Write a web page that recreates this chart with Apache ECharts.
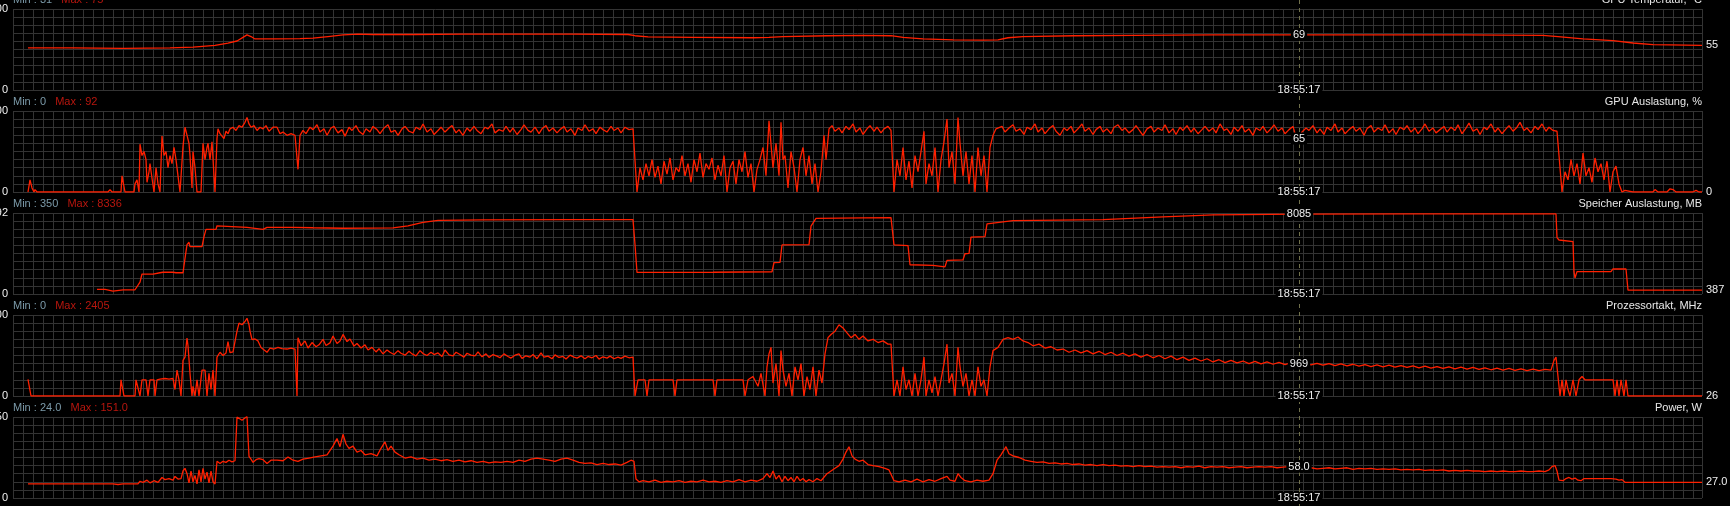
<!DOCTYPE html>
<html><head><meta charset="utf-8">
<script src="https://cdn.jsdelivr.net/npm/echarts@6/dist/echarts.min.js"></script>
<style>html,body{margin:0;padding:0;background:#000;overflow:hidden}#c{width:1730px;height:506px}</style>
</head><body><div id="c"></div>
<script>
// ---- data (t = sample index, seconds) ----
const panelNames = ['GPU Temperatur, °C', 'GPU Auslastung, %', 'Speicher Auslastung, MB', 'Prozessortakt, MHz', 'Power, W'];
const minTexts = ['31', '0', '350', '0', '24.0'];
const maxTexts = ['75', '92', '8336', '2405', '151.0'];
const yTopLabels = ['100', '100', '8192', '2500', '150'];
const yMaxValues = [100, 100, 8192, 2500, 150];
const endLabels = ['55', '0', '387', '26', '27.0'];
const cursorLabels = ['69', '65', '8085', '969', '58.0'];
const cursorValues = [68, 66, 8085, 1000, 58];
const cursorTime = 1286;
const cursorStamp = '18:55:17';
const timeMax = 1689;

const gpuTemp = [[15,52],[60,52],[110,51.5],[157,52],[180,53],[202,55],[215,58],[224,60.5],[230,65],[234,68],[238,66],[242,63],[262,63],[287,63.5],[300,64],[315,66],[330,68],[345,69],[360,68.5],[400,68.5],[450,69],[500,69],[560,69],[615,68.5],[622,67],[635,65.5],[680,65],[740,64.5],[756,65],[770,66],[814,67],[850,67.5],[878,67],[890,65],[910,63],[940,62],[970,61.5],[985,62],[995,64.5],[1010,66],[1060,67],[1120,67.5],[1200,68],[1286,68],[1360,68],[1450,68],[1530,67.5],[1545,66],[1570,63],[1600,61],[1620,58],[1640,56],[1689,55]];

const gpuLoad = [[15,0],[17,15],[19,5],[21,0],[22,3],[24,0],[95,0],[97,3],[99,0],[108,0],[109,20],[111,20],[112,0],[121,0],[122,10],[124,15],[126,0],[127,59],[129,45],[131,50],[133,40],[134,12],[136,25],[137,35],[139,17],[141,0],[143,30],[145,10],[147,0],[149,69],[151,45],[153,50],[155,30],[157,45],[159,35],[161,55],[163,40],[165,20],[167,0],[170,56],[172,80],[174,78],[176,60],[177,45],[179,5],[180,50],[182,30],[184,0],[188,0],[190,60],[192,40],[194,55],[195,60],[197,40],[199,62],[201,20],[202,0],[204,66],[205,78],[207,72],[209,74],[211,66],[213,75],[215,72],[217,78],[220,80],[223,76],[226,82],[229,80],[232,86],[234,92],[236,84],[238,80],[241,82],[244,76],[247,80],[250,78],[253,82],[256,75],[260,80],[264,80],[267,72],[270,74],[274,70],[278,72],[282,70],[285,28],[287,70],[290,76],[293,72],[297,80],[300,77],[304,83],[307,74],[311,78],[314,70],[318,79],[321,81],[325,73],[329,77],[332,69],[336,80],[339,76],[343,82],[346,75],[350,71],[353,78],[357,74],[360,81],[364,77],[367,72],[371,79],[375,83],[378,74],[382,76],[385,70],[389,78],[392,81],[396,75],[400,73],[403,80],[407,77],[410,84],[414,74],[418,78],[421,71],[425,76],[428,80],[432,74],[436,79],[439,82],[443,73],[446,77],[450,70],[454,79],[457,75],[461,81],[464,76],[468,72],[472,80],[475,78],[479,84],[482,73],[486,77],[490,75],[493,81],[497,74],[500,79],[504,71],[508,77],[511,83],[515,76],[518,74],[522,80],[526,72],[529,78],[533,82],[536,75],[540,79],[544,73],[547,77],[551,81],[554,74],[558,78],[562,70],[565,79],[569,76],[572,83],[576,75],[580,78],[583,72],[587,80],[590,77],[594,74],[598,81],[601,76],[605,79],[608,73],[612,80],[616,77],[620,78],[622,78],[624,0],[627,30],[630,15],[633,35],[636,20],[639,40],[642,18],[645,32],[648,10],[651,38],[654,22],[657,42],[660,15],[663,30],[666,25],[669,45],[672,20],[675,35],[678,12],[681,40],[684,25],[687,48],[690,18],[693,35],[696,28],[699,42],[702,15],[705,33],[708,20],[711,45],[714,0],[717,30],[720,38],[723,10],[726,40],[729,25],[732,50],[735,18],[738,35],[741,0],[744,28],[747,40],[750,55],[753,20],[756,88],[758,90],[760,30],[763,60],[766,20],[768,86],[770,40],[772,45],[775,5],[778,50],[781,30],[784,0],[787,40],[790,55],[793,20],[796,45],[799,10],[802,35],[805,0],[808,25],[811,70],[813,40],[816,78],[819,82],[822,75],[826,79],[829,73],[833,81],[836,77],[840,84],[843,74],[847,79],[850,71],[854,78],[857,82],[861,75],[864,80],[868,73],[871,78],[875,81],[878,76],[881,0],[884,40],[887,20],[890,55],[893,15],[896,38],[899,5],[902,45],[905,25],[908,50],[911,75],[913,10],[916,35],[919,20],[922,55],[925,0],[928,40],[931,62],[934,90],[936,30],[939,50],[942,10],[945,92],[947,60],[950,20],[953,50],[956,10],[959,45],[962,0],[965,55],[968,20],[971,45],[974,0],[977,55],[980,70],[983,78],[985,76],[989,81],[992,74],[996,79],[1000,83],[1003,75],[1007,78],[1011,71],[1014,80],[1018,77],[1022,84],[1025,74],[1029,79],[1032,72],[1036,78],[1040,82],[1043,75],[1047,70],[1051,79],[1054,76],[1058,81],[1061,73],[1065,78],[1069,84],[1072,75],[1076,79],[1080,71],[1083,77],[1087,81],[1090,74],[1094,78],[1098,72],[1101,80],[1105,83],[1109,76],[1112,79],[1116,73],[1120,77],[1123,82],[1127,75],[1130,70],[1134,78],[1138,81],[1141,74],[1145,79],[1149,76],[1152,83],[1156,73],[1160,78],[1163,71],[1167,80],[1170,76],[1174,82],[1178,74],[1181,79],[1185,72],[1189,77],[1192,81],[1196,75],[1200,79],[1203,73],[1207,84],[1211,76],[1214,78],[1218,71],[1221,80],[1225,75],[1229,82],[1232,74],[1236,78],[1240,70],[1243,79],[1247,76],[1250,81],[1254,73],[1258,78],[1261,83],[1265,75],[1269,79],[1272,72],[1276,77],[1280,81],[1283,68],[1286,66],[1289,74],[1293,79],[1296,76],[1300,82],[1304,73],[1307,78],[1311,71],[1314,80],[1318,76],[1322,84],[1325,74],[1329,79],[1332,72],[1336,77],[1340,81],[1343,75],[1347,79],[1351,70],[1354,78],[1358,82],[1361,74],[1365,79],[1369,76],[1372,83],[1376,73],[1380,78],[1383,71],[1387,80],[1391,77],[1394,82],[1398,74],[1402,79],[1405,72],[1409,78],[1412,84],[1416,75],[1420,79],[1423,73],[1427,77],[1431,81],[1434,74],[1438,80],[1442,76],[1445,83],[1449,72],[1453,79],[1456,85],[1460,75],[1464,78],[1467,71],[1471,80],[1474,77],[1478,84],[1482,74],[1485,79],[1489,72],[1493,78],[1496,82],[1500,75],[1504,80],[1507,86],[1511,76],[1514,79],[1518,73],[1522,81],[1525,77],[1529,84],[1533,75],[1536,80],[1540,76],[1544,75],[1546,45],[1549,0],[1552,25],[1555,15],[1558,40],[1561,20],[1564,35],[1567,10],[1570,48],[1573,20],[1576,30],[1579,12],[1582,42],[1585,25],[1588,35],[1591,15],[1594,38],[1597,0],[1600,25],[1603,32],[1606,10],[1609,0],[1612,2],[1620,0],[1640,0],[1642,3],[1645,0],[1654,0],[1657,4],[1660,3],[1663,0],[1680,0],[1683,2],[1686,0],[1689,0]];

const memUsed = [[84,475],[92,475],[94,330],[100,300],[104,350],[110,420],[122,430],[124,500],[127,1200],[129,2020],[140,2020],[147,2150],[148,2300],[150,2200],[160,2200],[162,2400],[163,2150],[170,2150],[172,3600],[174,5000],[176,5230],[177,4800],[189,4800],[191,5800],[193,6540],[203,6540],[204,6900],[206,6740],[234,6740],[236,6540],[250,6540],[252,6650],[254,6740],[280,6740],[282,6900],[300,6700],[330,6650],[380,6680],[395,6900],[410,7250],[425,7450],[470,7500],[560,7520],[620,7520],[622,5000],[624,2180],[700,2200],[759,2250],[761,3180],[767,3200],[769,4960],[796,5000],[798,6860],[803,7640],[850,7700],[878,7720],[881,4960],[895,4900],[897,2960],[920,2900],[932,2750],[934,3400],[950,3450],[952,4070],[956,4100],[958,5750],[972,5800],[974,7090],[1000,7420],[1090,7530],[1150,7800],[1200,8000],[1286,8085],[1400,8100],[1543,8100],[1544,5700],[1546,5460],[1560,5300],[1561,2255],[1562,1620],[1564,2260],[1598,2260],[1600,2530],[1613,2530],[1615,387],[1689,387]];

const coreClock = [[15,510],[17,510],[18,0],[20,30],[21,0],[50,0],[51,20],[52,0],[107,0],[108,500],[110,500],[111,0],[122,0],[123,500],[125,500],[127,0],[129,500],[133,500],[135,0],[137,500],[141,500],[142,0],[144,500],[147,520],[152,540],[156,520],[160,540],[162,200],[164,800],[166,500],[168,0],[170,1100],[172,1200],[174,1790],[175,1550],[177,700],[179,0],[180,300],[182,0],[184,500],[186,0],[189,800],[192,800],[194,0],[196,700],[198,200],[200,800],[202,0],[204,1200],[207,1350],[210,1250],[213,1330],[215,1680],[217,1340],[220,1360],[222,1340],[224,2000],[226,2250],[229,2200],[232,2300],[234,2400],[236,2200],[237,2000],[239,1740],[242,1760],[245,1700],[248,1500],[250,1550],[254,1350],[257,1480],[261,1450],[265,1500],[269,1460],[274,1450],[278,1480],[282,1450],[284,0],[285,1800],[288,1550],[292,1700],[295,1480],[299,1650],[303,1520],[306,1580],[310,1750],[313,1560],[317,1640],[320,1850],[324,1620],[327,1700],[330,1900],[334,1680],[337,1760],[341,1540],[344,1620],[348,1480],[352,1580],[355,1420],[359,1500],[363,1360],[366,1460],[370,1300],[374,1420],[377,1350],[381,1280],[385,1400],[388,1320],[392,1260],[396,1380],[399,1300],[403,1240],[407,1400],[410,1310],[414,1250],[418,1350],[421,1280],[425,1330],[429,1220],[432,1420],[436,1270],[440,1240],[443,1350],[447,1280],[451,1200],[454,1320],[458,1260],[462,1240],[465,1360],[469,1210],[473,1300],[476,1190],[480,1280],[484,1230],[487,1180],[491,1300],[495,1220],[498,1170],[502,1260],[506,1300],[509,1160],[513,1240],[517,1200],[520,1280],[524,1150],[528,1330],[531,1200],[535,1230],[539,1150],[542,1270],[546,1190],[550,1220],[553,1140],[557,1260],[561,1200],[564,1170],[568,1240],[572,1150],[575,1220],[579,1180],[583,1250],[586,1140],[590,1210],[594,1170],[597,1230],[601,1150],[605,1200],[608,1160],[612,1230],[616,1180],[620,1200],[622,0],[625,500],[632,500],[634,0],[636,500],[660,500],[662,0],[664,500],[700,500],[702,0],[704,500],[730,500],[732,0],[735,500],[740,600],[745,300],[748,700],[752,0],[754,900],[756,1300],[758,1500],[760,400],[763,1000],[766,0],[768,1400],[770,800],[773,300],[776,700],[779,0],[782,900],[785,500],[788,1000],[791,0],[794,600],[797,200],[800,900],[803,0],[806,800],[809,400],[812,1300],[815,1800],[818,1900],[822,2000],[826,2200],[830,2100],[834,1950],[838,1800],[842,1900],[846,1750],[850,1850],[855,1700],[860,1750],[865,1650],[870,1700],[875,1600],[878,1600],[881,0],[884,500],[887,0],[890,900],[893,200],[896,500],[899,0],[902,700],[905,0],[908,500],[911,1200],[913,0],[916,500],[919,100],[922,600],[925,0],[928,500],[931,1000],[934,1600],[936,400],[939,700],[942,0],[945,1500],[947,900],[950,300],[953,700],[956,0],[959,500],[962,0],[965,900],[968,300],[971,500],[974,0],[977,900],[980,1400],[985,1500],[990,1750],[995,1800],[1000,1750],[1005,1820],[1010,1700],[1015,1650],[1020,1550],[1026,1600],[1032,1480],[1038,1520],[1044,1420],[1050,1450],[1056,1350],[1062,1420],[1068,1330],[1074,1400],[1080,1300],[1086,1380],[1092,1280],[1098,1350],[1104,1250],[1110,1320],[1116,1230],[1122,1300],[1128,1200],[1134,1280],[1140,1180],[1146,1250],[1152,1150],[1158,1230],[1164,1120],[1170,1200],[1176,1100],[1182,1170],[1188,1080],[1194,1150],[1200,1050],[1206,1120],[1212,1030],[1218,1100],[1224,1020],[1230,1080],[1236,1000],[1242,1070],[1248,990],[1254,1050],[1260,980],[1266,1040],[1272,970],[1278,1030],[1286,969],[1292,1020],[1298,960],[1304,1010],[1310,950],[1316,1000],[1322,940],[1328,990],[1334,930],[1340,980],[1346,920],[1352,970],[1358,910],[1364,960],[1370,900],[1376,950],[1382,890],[1388,940],[1394,880],[1400,930],[1406,870],[1412,920],[1418,860],[1424,910],[1430,850],[1436,900],[1442,840],[1448,890],[1454,830],[1460,880],[1466,820],[1472,870],[1478,810],[1484,860],[1490,800],[1496,850],[1502,790],[1508,840],[1514,780],[1520,830],[1526,780],[1532,820],[1538,800],[1541,1100],[1543,1200],[1545,1150],[1547,0],[1549,500],[1551,0],[1553,500],[1555,200],[1557,0],[1560,500],[1563,0],[1566,500],[1569,600],[1572,500],[1600,500],[1602,0],[1604,500],[1606,0],[1608,500],[1611,0],[1613,500],[1615,0],[1640,0],[1642,30],[1645,0],[1660,0],[1662,30],[1664,0],[1689,0]];

const boardPower = [[15,26],[60,26],[62,25],[100,26],[105,25],[110,26],[125,26],[127,31],[130,29],[134,33],[137,28],[141,32],[145,29],[149,38],[152,34],[156,36],[160,33],[162,40],[165,35],[168,36],[170,50],[172,55],[174,45],[176,28],[178,50],[180,30],[182,42],[184,26],[186,52],[188,30],[190,55],[192,35],[194,48],[196,28],[198,50],[200,30],[202,26],[204,68],[207,64],[210,68],[213,66],[216,70],[219,67],[222,69],[224,150],[226,151],[229,144],[231,146],[234,151],[236,77],[238,72],[240,66],[243,71],[246,73],[250,71],[254,64],[258,70],[264,70],[270,69],[275,76],[280,70],[285,68],[290,72],[296,74],[302,76],[308,78],[314,80],[320,96],[324,110],[327,95],[330,118],[333,100],[336,92],[340,96],[344,85],[348,88],[352,80],[358,82],[364,78],[368,92],[372,104],[375,88],[378,96],[382,85],[386,80],[392,74],[398,76],[404,72],[410,74],[416,70],[422,72],[428,69],[434,71],[440,68],[446,70],[452,67],[458,69],[464,66],[470,68],[476,65],[482,67],[488,66],[494,68],[500,66],[506,70],[512,68],[518,72],[524,74],[530,72],[536,70],[542,68],[548,72],[554,74],[560,70],[566,66],[572,64],[578,65],[584,62],[590,64],[596,62],[602,63],[608,61],[614,66],[618,70],[621,68],[623,35],[626,30],[630,32],[636,30],[642,33],[648,29],[654,31],[660,30],[666,32],[672,29],[678,31],[684,30],[690,33],[696,30],[702,31],[708,29],[714,32],[720,30],[726,34],[732,30],[738,33],[744,31],[750,36],[754,45],[757,38],[760,50],[763,35],[766,42],[769,30],[772,40],[775,32],[778,38],[781,30],[784,40],[787,32],[790,36],[793,30],[796,34],[800,30],[804,36],[808,32],[814,45],[818,50],[822,55],[826,60],[830,72],[833,85],[836,95],[839,78],[842,72],[846,68],[850,70],[855,62],[860,60],[866,58],[872,55],[876,52],[878,50],[881,32],[886,30],[892,33],[898,30],[904,35],[910,30],[916,34],[922,31],[928,36],[934,40],[937,33],[942,31],[945,45],[948,38],[952,32],[958,30],[964,33],[970,31],[976,33],[980,45],[984,70],[988,80],[993,95],[996,82],[1000,78],[1006,75],[1012,70],[1018,68],[1024,66],[1030,67],[1036,64],[1042,65],[1048,63],[1054,64],[1060,62],[1066,63],[1072,61],[1078,62],[1084,60],[1090,62],[1096,60],[1102,61],[1108,59],[1114,60],[1120,58],[1126,60],[1132,58],[1138,59],[1144,57],[1150,58],[1156,57],[1162,58],[1168,56],[1174,58],[1180,57],[1186,59],[1192,56],[1198,58],[1204,57],[1210,58],[1216,56],[1222,57],[1228,58],[1234,56],[1240,57],[1246,58],[1252,57],[1258,58],[1264,56],[1270,57],[1276,58],[1280,56],[1286,58],[1292,55],[1298,56],[1304,54],[1310,55],[1316,56],[1322,54],[1328,55],[1334,56],[1340,53],[1346,55],[1352,54],[1358,55],[1364,53],[1370,54],[1376,53],[1382,54],[1388,52],[1394,53],[1400,52],[1406,53],[1412,51],[1418,52],[1424,51],[1430,52],[1436,50],[1442,51],[1448,50],[1454,51],[1460,50],[1466,50],[1472,49],[1478,50],[1484,49],[1490,50],[1496,49],[1502,49],[1508,50],[1514,49],[1520,49],[1526,50],[1532,49],[1536,52],[1539,58],[1542,60],[1544,50],[1546,33],[1550,32],[1553,36],[1556,38],[1559,35],[1562,37],[1565,33],[1568,32],[1571,36],[1574,36],[1598,36],[1600,33],[1603,35],[1606,33],[1609,34],[1612,29],[1614,29],[1660,29],[1662,28],[1664,29],[1689,29]];

const seriesData = [gpuTemp, gpuLoad, memUsed, coreClock, boardPower];

// ---- layout ----
const FONT = '"Liberation Sans", Arial, sans-serif';
const tops = [9, 111, 213, 315, 417];
const H = 81;
const gridColor = '#333333';

const chart = echarts.init(document.getElementById('c'), null, {renderer: 'canvas'});
const option = {
  backgroundColor: '#000',
  animation: false,
  textStyle: {fontFamily: FONT},
  grid: tops.map(t => ({left: 13, right: 28, top: t, height: H, containLabel: false, outerBoundsMode: 'none'})),
  title: [].concat(
    tops.map((t, i) => ({
      left: 13, top: t - 15, padding: 0,
      text: '{a|Min : ' + minTexts[i] + '}   {b|Max : ' + maxTexts[i] + '}',
      textStyle: {fontFamily: FONT, fontSize: 11, fontWeight: 'normal', lineHeight: 12,
        rich: {a: {color: '#7b9aa9', fontSize: 11, fontFamily: FONT},
               b: {color: '#b8160e', fontSize: 11, fontFamily: FONT}}}
    })),
    tops.map((t, i) => ({
      right: 28, top: t - 15, padding: 0, text: panelNames[i],
      textStyle: {color: '#e8e8e8', fontFamily: FONT, fontSize: 11, fontWeight: 'normal', lineHeight: 12}
    }))
  ),
  xAxis: tops.map((t, i) => ({
    type: 'value', gridIndex: i, min: 0, max: timeMax, interval: 10,
    axisLabel: {show: false}, axisTick: {show: false}, axisLine: {show: false},
    splitLine: {show: true, lineStyle: {color: gridColor, width: 1}}
  })),
  yAxis: tops.map((t, i) => ({
    type: 'value', gridIndex: i, min: 0, max: yMaxValues[i], interval: yMaxValues[i] / 10,
    axisTick: {show: false}, axisLine: {show: false},
    splitLine: {show: true, lineStyle: {color: gridColor, width: 1}},
    axisLabel: {
      show: true, color: '#eeeeee', fontSize: 11, fontFamily: FONT, margin: 5,
      showMinLabel: true, showMaxLabel: true, hideOverlap: false,
      formatter: v => (Math.abs(v - yMaxValues[i]) < 1e-6 * yMaxValues[i] + 1e-9 ? yTopLabels[i] : (Math.abs(v) < 1e-9 ? '0' : ''))
    }
  })),
  series: seriesData.map((d, i) => ({
    type: 'line', xAxisIndex: i, yAxisIndex: i, data: d,
    showSymbol: false, symbol: 'none', z: 3,
    lineStyle: {color: '#ff2000', width: 1.3},
    endLabel: {show: true, formatter: endLabels[i], color: '#eeeeee', fontSize: 11, fontFamily: FONT, distance: 4},
    markPoint: {
      silent: true, symbol: 'rect', symbolSize: 1, itemStyle: {color: 'rgba(0,0,0,0)'},
      label: {show: true, position: 'inside', color: '#eeeeee', fontSize: 11, fontFamily: FONT,
        backgroundColor: '#000', padding: [1, 2, 0, 2]},
      data: [
        {coord: [cursorTime, cursorValues[i]], label: {formatter: cursorLabels[i]}},
        {coord: [cursorTime, 0], label: {formatter: cursorStamp}}
      ]
    }
  }))
};
chart.setOption(option);
const cx = Math.round(chart.convertToPixel({xAxisIndex: 0}, cursorTime)) + 0.5;
chart.setOption({
  graphic: [{type: 'line', silent: true, z: 2, shape: {x1: cx, y1: 0, x2: cx, y2: 506},
    style: {stroke: '#6f6f4a', lineWidth: 1, lineDash: [4, 4]}}]
});
</script></body></html>
